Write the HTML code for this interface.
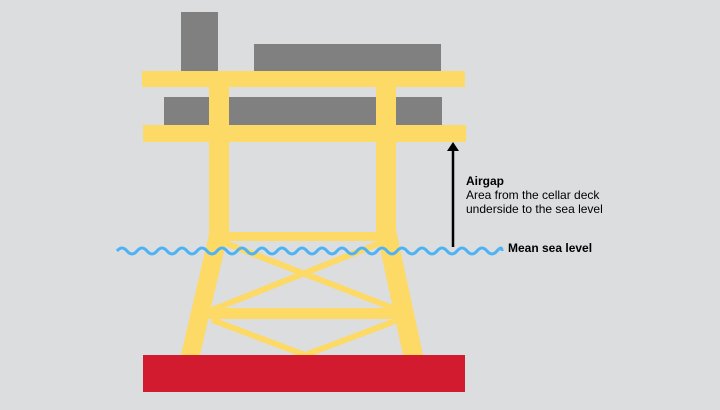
<!DOCTYPE html>
<html><head><style>
body{margin:0;width:720px;height:405px;background:#dcdddf;overflow:hidden;font-family:"Liberation Sans",Arial,sans-serif;}
</style></head><body>
<svg width="720" height="405" viewBox="0 0 720 405" xmlns="http://www.w3.org/2000/svg">
<rect width="720" height="405" fill="#dcdddf"/>
<g fill="#808080">
<rect x="181" y="12" width="37" height="59"/>
<rect x="254" y="44" width="187" height="27"/>
<rect x="164" y="97" width="278" height="28"/>
</g>
<g fill="#fdd966">
<rect x="209" y="80" width="20" height="155"/>
<rect x="376" y="80" width="20" height="155"/>
<polygon points="210,230 229,230 200,355 181,355"/>
<polygon points="376,230 396,230 423,355 403,355"/>
<rect x="142" y="71" width="323" height="16"/>
<rect x="143" y="125" width="323" height="17"/>
<rect x="222" y="232" width="160" height="9"/>
<rect x="208" y="308" width="196" height="11"/>
</g>
<g stroke="#fdd966" stroke-width="6" fill="none">
<line x1="225" y1="243" x2="398" y2="310"/>
<line x1="380" y1="243" x2="212" y2="310"/>
<line x1="212" y1="320" x2="305" y2="355"/>
<line x1="398" y1="320" x2="305" y2="355"/>
</g>
<rect x="143" y="355" width="322" height="37" fill="#d21b2f"/>
<path id="w" d="" fill="none"/>
<path d="M117,251 q5,-6 10,0 t10,0 t10,0 t10,0 t10,0 t10,0 t10,0 t10,0 t10,0 t10,0 t10,0 t10,0 t10,0 t10,0 t10,0 t10,0 t10,0 t10,0 t10,0 t10,0 t10,0 t10,0 t10,0 t10,0 t10,0 t10,0 t10,0 t10,0 t10,0 t10,0 t10,0 t10,0 t10,0 t10,0 t10,0 t10,0 t10,0 t10,0 t5,0" fill="none" stroke="#4db3f5" stroke-width="3"/>
<line x1="453" y1="150" x2="453" y2="247" stroke="#000" stroke-width="2.5"/>
<polygon points="447,151 453,142 459,151" fill="#000"/>
<text x="466" y="185" font-size="12" font-weight="bold" fill="#000">Airgap</text>
<text x="466" y="199" font-size="12" fill="#000">Area from the cellar deck</text>
<text x="466" y="213" font-size="12" fill="#000">underside to the sea level</text>
<text x="508" y="252" font-size="12" font-weight="bold" fill="#000">Mean sea level</text>
</svg>
</body></html>
